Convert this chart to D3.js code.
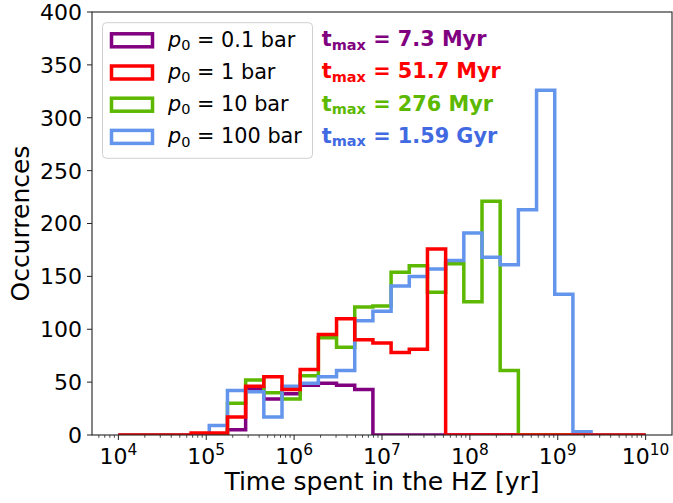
<!DOCTYPE html>
<html>
<head>
<meta charset="utf-8">
<script src="https://cdn.jsdelivr.net/npm/d3@7"></script>
<style>
  html, body { margin: 0; padding: 0; background: #fff; }
  svg { display: block; }
  text { font-family: "DejaVu Sans", sans-serif; }
</style>
</head>
<body>
<svg id="chart" width="673" height="503"></svg>
<script>
// ---- data ----
// histogram bins: 29 log-spaced bins from 10^4 to 10^10 yr
const binExpStart = 4;
const binExpEnd = 10;
const nBins = 29;

const seriesNames = ["0.1", "1", "10", "100"];
const seriesColors = ["#800080", "#ff0000", "#5cb800", "#6495ed"];
const textColors = ["#800080", "#ff0000", "#5cb800", "#4169e1"];
const tmaxLabels = ["7.3 Myr", "51.7 Myr", "276 Myr", "1.59 Gyr"];

const counts01 = [0,0,0,0,0,0,5,44,34,39,47,49,47,43,0,0,0,0,0,0,0,0,0,0,0,0,0,0,0];
const counts1  = [0,0,0,0,2,2,17,46,55,43,62,95,110,90,87,78,81,176,0,0,0,0,0,0,0,0,0,0,0];
const counts10 = [0,0,0,0,0,0,30,52,40,34,56,92,83,121,122,154,160,135,162,126,221,61,0,0,0,0,0,0,0];
const counts100= [0,0,0,0,0,9,42,41,17,46,49,55,61,108,117,141,150,157,165,191,168,161,213,326,133,3,0,0,0];

const yTicks = [0, 50, 100, 150, 200, 250, 300, 350, 400];
const xTickExps = [4, 5, 6, 7, 8, 9, 10];

(function () {
// ---- layout ----
const pL = 92, pR = 672, pT = 12, pB = 435;
const svg = d3.select("#chart");

const x = d3.scaleLog().domain([Math.pow(10, 3.7), Math.pow(10, 10.3)]).range([pL, pR]);
const y = d3.scaleLinear().domain([0, 400]).range([pB, pT]);

const edges = d3.range(nBins + 1).map(i => Math.pow(10, binExpStart + (binExpEnd - binExpStart) * i / nBins));

svg.append("defs").append("clipPath").attr("id", "plotclip")
  .append("rect").attr("x", pL).attr("y", pT).attr("width", pR - pL).attr("height", pB - pT);

function stepPoints(vals) {
  const pts = [[x(edges[0]), y(0)]];
  vals.forEach((v, i) => {
    pts.push([x(edges[i]), y(v)]);
    pts.push([x(edges[i + 1]), y(v)]);
  });
  pts.push([x(edges[nBins]), y(0)]);
  return pts;
}

const allCounts = [counts01, counts1, counts10, counts100];
const drawOrder = [0, 2, 3, 1];
const line = d3.line();
const g = svg.append("g").attr("clip-path", "url(#plotclip)");
drawOrder.forEach(i => {
  g.append("path")
    .attr("d", line(stepPoints(allCounts[i])))
    .attr("fill", "none")
    .attr("stroke", seriesColors[i])
    .attr("stroke-width", 3.5)
    .attr("stroke-linejoin", "miter");
});

// ---- axes ----
const axisColor = "#222";
yTicks.forEach(t => {
  svg.append("line").attr("x1", pL - 5).attr("x2", pL).attr("y1", y(t)).attr("y2", y(t))
    .attr("stroke", axisColor).attr("stroke-width", 1);
  svg.append("text").attr("x", pL - 10).attr("y", y(t)).attr("dy", "0.36em")
    .attr("text-anchor", "end").attr("font-size", 22).attr("fill", "#000").text(t);
});
xTickExps.forEach(e => {
  const px = x(Math.pow(10, e));
  svg.append("line").attr("x1", px).attr("x2", px).attr("y1", pB).attr("y2", pB + 5)
    .attr("stroke", axisColor).attr("stroke-width", 1);
  const t = svg.append("text").attr("x", px).attr("y", 463.5).attr("text-anchor", "middle")
    .attr("font-size", 22).attr("fill", "#000");
  t.append("tspan").text("10");
  t.append("tspan").attr("dy", -8.5).attr("font-size", 15.4).text(e);
});
for (let e = 3; e <= 10; e++) {
  for (let m = 2; m <= 9; m++) {
    const v = m * Math.pow(10, e);
    if (v < x.domain()[0] || v > x.domain()[1]) continue;
    const px = x(v);
    svg.append("line").attr("x1", px).attr("x2", px).attr("y1", pB).attr("y2", pB + 2.8)
      .attr("stroke", axisColor).attr("stroke-width", 0.8);
  }
}
svg.append("rect").attr("x", pL).attr("y", pT).attr("width", pR - pL).attr("height", pB - pT)
  .attr("fill", "none").attr("stroke", axisColor).attr("stroke-width", 1.1);

svg.append("text").attr("x", (pL + pR) / 2).attr("y", 489.5).attr("text-anchor", "middle")
  .attr("font-size", 25).attr("fill", "#000").text("Time spent in the HZ [yr]");
svg.append("text").attr("transform", `translate(29,${(pT + pB) / 2}) rotate(-90)`)
  .attr("text-anchor", "middle").attr("font-size", 25).attr("fill", "#000").text("Occurrences");

// ---- legend ----
svg.append("rect").attr("x", 102.5).attr("y", 22.7).attr("width", 210).attr("height", 135.6)
  .attr("rx", 4).attr("fill", "#fff").attr("fill-opacity", 0.8)
  .attr("stroke", "#d0d0d0").attr("stroke-width", 1);

seriesNames.forEach((name, i) => {
  const rowY = 33.8 + 32.2 * i;
  svg.append("rect").attr("x", 111.5).attr("y", rowY).attr("width", 41).attr("height", 13)
    .attr("fill", "#fff").attr("stroke", seriesColors[i]).attr("stroke-width", 3.5);
  const t = svg.append("text").attr("x", 168).attr("y", 46.7 + 32.2 * i)
    .attr("font-size", 20.8).attr("fill", "#000");
  t.append("tspan").attr("font-style", "italic").text("p");
  t.append("tspan").attr("dy", 3.2).attr("font-size", 14.5).text("0");
  t.append("tspan").attr("dy", -3.2).text(" = " + name + " bar");

  const tm = svg.append("text").attr("x", 321.7).attr("y", 46.3 + 32.1 * i)
    .attr("font-size", 20.8).attr("font-weight", "bold").attr("fill", textColors[i]);
  tm.append("tspan").text("t");
  tm.append("tspan").attr("dy", 3.2).attr("font-size", 14.5).text("max");
  tm.append("tspan").attr("dy", -3.2).text(" = " + tmaxLabels[i]);
});
})();
</script>
</body>
</html>
